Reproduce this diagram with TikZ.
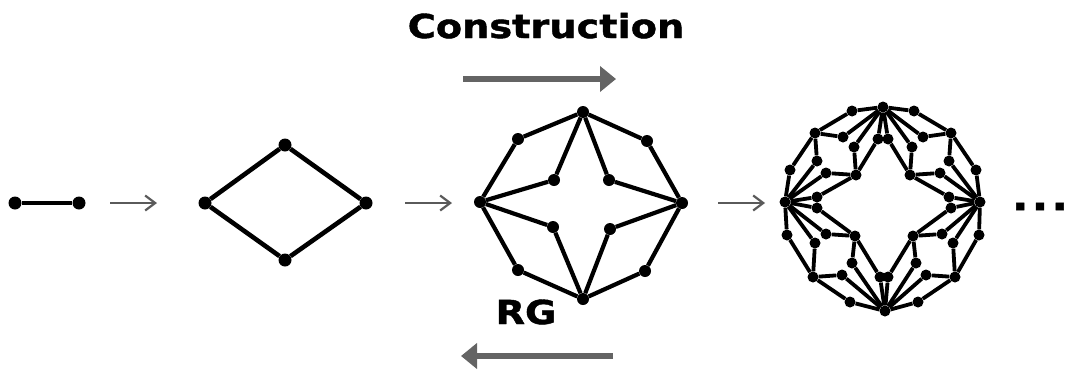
\documentclass[tikz,border=0pt]{standalone}
\usepackage{fontspec}
\setmainfont{DejaVu Sans}
\newfontfamily\labelfont{DejaVu Sans}[BoldFeatures={FakeStretch=1.16,FakeBold=1.3}]
\usetikzlibrary{arrows.meta}
\definecolor{arrowgray}{RGB}{100,100,100}
\definecolor{thingray}{RGB}{90,90,90}
\tikzset{
  vtx/.style={circle, fill=black, inner sep=0pt, minimum size=#1},
  vtx/.default=11pt,
  gedge/.style={line width=#1, black},
  gedge/.default=3.8pt,
  steparrow/.style={draw=thingray, line width=2.2pt, -{Straight Barb[length=10pt,width=15pt,line width=2.2pt]}},
  bigarrow/.style={draw=arrowgray, line width=5.5pt, -{Triangle[length=16pt,width=25pt]}},
  bigtext/.style={inner sep=0pt, anchor=base, font=\labelfont\bfseries\fontsize{33}{36}\selectfont}
}
\begin{document}
\begin{tikzpicture}[x=1pt,y=-1pt]
\useasboundingbox (0,0) rectangle (1069,370);

% graph 1
\node[vtx=13pt] (g1a) at (15,203) {};
\node[vtx=13pt] (g1b) at (79,203) {};
\draw[gedge=3.6pt] (g1a) -- (g1b);

% graph 2
\node[vtx=13pt] (L2) at (205,203) {};
\node[vtx=13pt] (T2) at (285,145) {};
\node[vtx=13pt] (R2) at (366,203) {};
\node[vtx=13pt] (B2) at (285,260) {};
\draw[gedge=4.6pt] (L2) -- (T2) -- (R2) -- (B2) -- (L2);

% graph 3
\node[vtx=12pt] (T3) at (583,112) {};
\node[vtx=12pt] (L3) at (480,202) {};
\node[vtx=12pt] (R3) at (682,203) {};
\node[vtx=12pt] (B3) at (583,299) {};
\node[vtx=12pt] (aUL3) at (518,139) {};
\node[vtx=12pt] (aUR3) at (647,141) {};
\node[vtx=12pt] (aLL3) at (518,270) {};
\node[vtx=12pt] (aLR3) at (645,271) {};
\node[vtx=12pt] (bUL3) at (554,180) {};
\node[vtx=12pt] (bUR3) at (609,180) {};
\node[vtx=12pt] (bLL3) at (553,227) {};
\node[vtx=12pt] (bLR3) at (610,229) {};
\draw[gedge=4.2pt] (T3) -- (aUL3) -- (L3) -- (aLL3) -- (B3) -- (aLR3) -- (R3) -- (aUR3) -- (T3);
\draw[gedge=4.2pt] (T3) -- (bUL3) -- (L3) -- (bLL3) -- (B3) -- (bLR3) -- (R3) -- (bUR3) -- (T3);

% graph 4 hubs
\node[vtx] (T4) at (883,107) {};
\node[vtx] (B4) at (885,311) {};
\node[vtx] (L4) at (785,202) {};
\node[vtx] (R4) at (980,202) {};
% upper left
\node[vtx] (ula) at (815,133) {};
\node[vtx] (ulp1) at (852,111) {};
\node[vtx] (ulq1) at (843,137) {};
\node[vtx] (ulp2) at (790,170) {};
\node[vtx] (ulq2) at (817,161) {};
\node[vtx] (ulb) at (856,175) {};
\node[vtx] (uls1) at (854,147) {};
\node[vtx] (ulr1) at (878,139) {};
\node[vtx] (uls2) at (826,173) {};
\node[vtx] (ulr2) at (817,197) {};
% upper right
\node[vtx] (ura) at (951,133) {};
\node[vtx] (urp1) at (914,111) {};
\node[vtx] (urq1) at (923,137) {};
\node[vtx] (urp2) at (976,170) {};
\node[vtx] (urq2) at (949,161) {};
\node[vtx] (urb) at (910,175) {};
\node[vtx] (urs1) at (912,147) {};
\node[vtx] (urr1) at (888,139) {};
\node[vtx] (urs2) at (940,173) {};
\node[vtx] (urr2) at (949,197) {};
% lower left
\node[vtx] (lla) at (813,277) {};
\node[vtx] (llp1) at (850,302) {};
\node[vtx] (llq1) at (842,275) {};
\node[vtx] (llp2) at (787,235) {};
\node[vtx] (llq2) at (815,243) {};
\node[vtx] (llb) at (855,236) {};
\node[vtx] (lls1) at (852,263) {};
\node[vtx] (llr1) at (880,277) {};
\node[vtx] (lls2) at (826,234) {};
\node[vtx] (llr2) at (817,208) {};
% lower right
\node[vtx] (lra) at (955,277) {};
\node[vtx] (lrp1) at (918,302) {};
\node[vtx] (lrq1) at (926,275) {};
\node[vtx] (lrp2) at (979,235) {};
\node[vtx] (lrq2) at (953,243) {};
\node[vtx] (lrb) at (913,236) {};
\node[vtx] (lrs1) at (916,263) {};
\node[vtx] (lrr1) at (888,277) {};
\node[vtx] (lrs2) at (942,234) {};
\node[vtx] (lrr2) at (951,208) {};

\foreach \q/\h/\k in {ul/T4/L4, ur/T4/R4, ll/B4/L4, lr/B4/R4}{
  \draw[gedge] (\h) -- (\q p1) -- (\q a) -- (\q p2) -- (\k);
  \draw[gedge] (\h) -- (\q q1) -- (\q a) -- (\q q2) -- (\k);
  \draw[gedge] (\h) -- (\q r1) -- (\q b) -- (\q r2) -- (\k);
  \draw[gedge] (\h) -- (\q s1) -- (\q b) -- (\q s2) -- (\k);
}

% step arrows
\coordinate (s1a) at (110,203);
\coordinate (s1b) at (157,203);
\coordinate (s2a) at (405,203);
\coordinate (s2b) at (452,203);
\coordinate (s3a) at (718,203);
\coordinate (s3b) at (765,203);
\draw[steparrow] (s1a) -- (s1b);
\draw[steparrow] (s2a) -- (s2b);
\draw[steparrow] (s3a) -- (s3b);

% labels and big arrows
\node[bigtext] (cons) at (546,38) {Construction};
\node[bigtext] (rg) at (526,324) {RG};
\coordinate (ca) at (463,79);
\coordinate (cb) at (616,79);
\coordinate (ra) at (613,356);
\coordinate (rb) at (461,356);
\draw[bigarrow] (ca) -- (cb);
\draw[bigarrow] (ra) -- (rb);

\node[bigtext, font=\labelfont\bfseries\fontsize{38}{38}\selectfont] (dots) at (1040,210) {.\hspace{3pt}.\hspace{3pt}.};
\end{tikzpicture}
\end{document}
